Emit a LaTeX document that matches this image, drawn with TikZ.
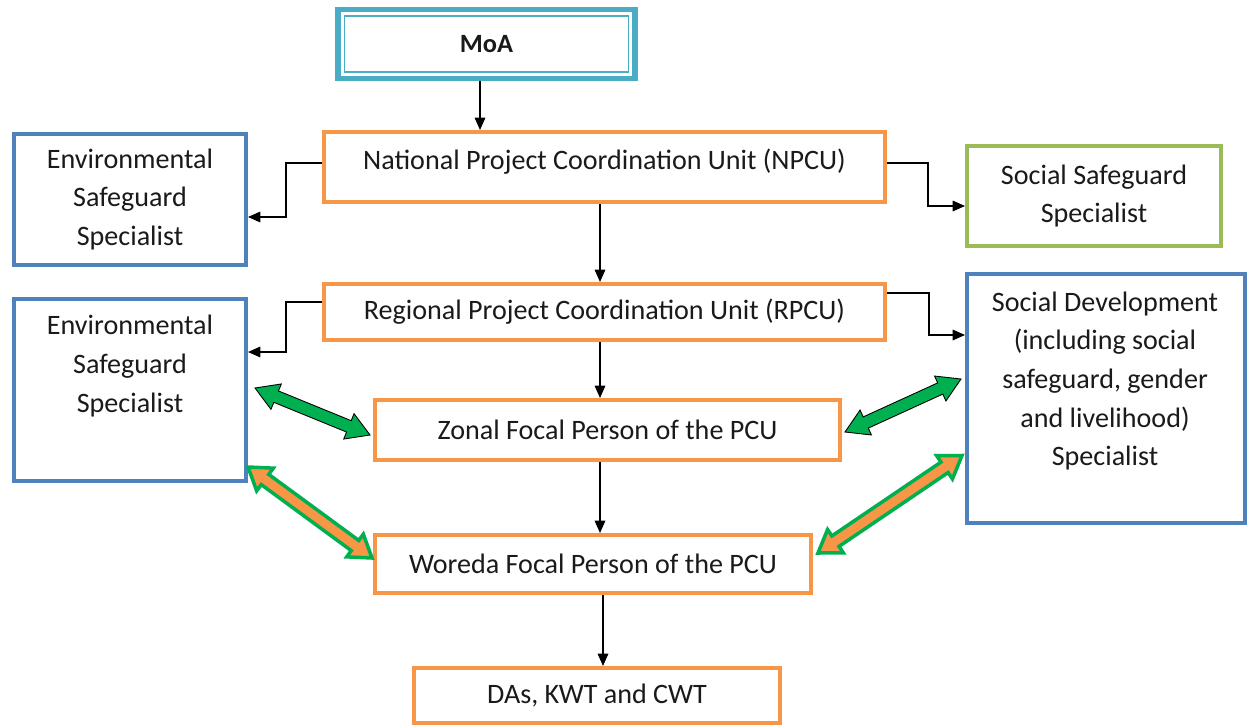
\documentclass[tikz,border=0pt]{standalone}
\usepackage{fontspec}
\setmainfont{Carlito}
\usetikzlibrary{calc,arrows.meta}
\definecolor{orng}{HTML}{F79646}
\definecolor{blu}{HTML}{4F81BD}
\definecolor{grnbox}{HTML}{9BBB59}
\definecolor{teal}{HTML}{4BACC6}
\definecolor{garr}{HTML}{00B050}
\definecolor{txtc}{HTML}{1A1A1A}
\newcommand\dblarrow[6]{%
  \coordinate (da-a1) at ($(#1)!#5!(#2)$);
  \coordinate (da-b1) at ($(#2)!#5!(#1)$);
  \path[#6] (#1) -- ($(da-a1)!#4!90:(#2)$) -- ($(da-a1)!#3!90:(#2)$)
    -- ($(da-b1)!#3!-90:(#1)$) -- ($(da-b1)!#4!-90:(#1)$) -- (#2)
    -- ($(da-b1)!#4!90:(#1)$) -- ($(da-b1)!#3!90:(#1)$)
    -- ($(da-a1)!#3!-90:(#2)$) -- ($(da-a1)!#4!-90:(#2)$) -- cycle;
}
\begin{document}
\begin{tikzpicture}[x=0.02cm,y=-0.02cm,
  txt/.style={font=\fontsize{16}{22}\selectfont, align=center, text=txtc},
  obox/.style={txt, draw=orng, line width=2.3pt, rectangle, inner sep=0pt},
  bbox/.style={txt, draw=blu, line width=2.3pt, rectangle, inner sep=0pt},
  gbox/.style={txt, draw=grnbox, line width=2.3pt, rectangle, inner sep=0pt},
  arr/.style={-{Triangle[width=6pt,length=7pt]}, line width=0.8pt, black},
  garrow/.style={fill=garr, draw=black, line width=0.5pt, line join=miter},
  oarrow/.style={fill=orng, draw=garr, line width=2pt, line join=miter},
]
\useasboundingbox (0,0) rectangle (1251,727);
\fill[white] (0,0) rectangle (1251,727);

% MoA
\node[draw=teal, line width=3pt, minimum width=5.94cm, minimum height=1.38cm, inner sep=0pt,
      font=\fontsize{15}{18}\selectfont\bfseries, text=txtc] (moa) at (486.5,44) {MoA};
\draw[teal, line width=0.9pt] ($(moa.north west)+(9,9)$) rectangle ($(moa.south east)+(-9,-9)$);

% orange boxes
\node[obox, minimum width=11.22cm, minimum height=1.40cm] (npcu) at (604.5,167)
  {National Project Coordination Unit (NPCU)\rule[-9pt]{0pt}{0pt}};
\node[obox, minimum width=11.22cm, minimum height=1.12cm] (rpcu) at (604.5,312)
  {Regional Project Coordination Unit (RPCU)};
\node[obox, minimum width=9.30cm, minimum height=1.20cm] (zonal) at (607.5,430)
  {Zonal Focal Person of the PCU};
\node[obox, minimum width=8.72cm, minimum height=1.16cm] (woreda) at (593,564)
  {Woreda Focal Person of the PCU};
\node[obox, minimum width=7.32cm, minimum height=1.10cm] (das) at (597,695.5)
  {DAs, KWT and CWT};

% side boxes
\node[bbox, minimum width=4.64cm, minimum height=2.62cm] (env1) at (130,199.5)
  {Environmental\\Safeguard\\Specialist};
\node[bbox, minimum width=4.64cm, minimum height=3.64cm] (env2) at (130,390) {};
\node[txt] (env2t) at (130,366) {Environmental\\Safeguard\\Specialist};
\node[gbox, minimum width=5.08cm, minimum height=2.00cm] (sss) at (1094,196)
  {Social Safeguard\\Specialist};
\node[bbox, minimum width=5.56cm, minimum height=4.98cm] (socdev) at (1106,398.5) {};
\node[txt] (socdevt) at (1105,381)
  {Social Development\\(including social\\safeguard, gender\\and livelihood)\\Specialist};

% vertical arrows
\coordinate (vx) at (600,0);
\coordinate (vx2) at (603,0);
\draw[arr] (moa.south -| 480,0) -- (npcu.north -| 480,0);
\draw[arr] (npcu.south -| vx) -- (rpcu.north -| vx);
\draw[arr] (rpcu.south -| vx) -- (zonal.north -| vx);
\draw[arr] (zonal.south -| vx) -- (woreda.north -| vx);
\draw[arr] (woreda.south -| vx2) -- (das.north -| vx2);

% elbow connectors
\draw[arr] ($(npcu.west)+(0,-4)$) -- ++(-36,0) |- ($(env1.east)+(0,17.5)$);
\draw[arr] ($(rpcu.west)+(0,-10)$) -- ++(-36,0) |- ($(env2.east)+(0,-38)$);
\draw[arr] ($(npcu.east)+(0,-4)$) -- ++(41,0) |- ($(sss.west)+(0,10)$);
\draw[arr] ($(rpcu.east)+(0,-19)$) -- ++(42,0) |- ($(socdev.west)+(0,-63.5)$);

% double arrows
\coordinate (g1s) at ($(env2.east)+(7,-2)$);
\coordinate (g1e) at ($(zonal.west)+(-3,5)$);
\dblarrow{g1s}{g1e}{3.5pt}{7.8pt}{13pt}{garrow}
\coordinate (g2s) at ($(zonal.east)+(3,2)$);
\coordinate (g2e) at ($(socdev.west)+(-4,-19.5)$);
\dblarrow{g2s}{g2e}{3.5pt}{7.8pt}{13pt}{garrow}
\coordinate (o1s) at ($(env2.south east)+(0,-16)$);
\coordinate (o1e) at ($(woreda.west)+(-1,-6)$);
\dblarrow{o1s}{o1e}{3.6pt}{8pt}{12pt}{oarrow}
\coordinate (o2s) at ($(woreda.east)+(5,-11)$);
\coordinate (o2e) at ($(socdev.west)+(-3,57)$);
\dblarrow{o2s}{o2e}{3.6pt}{8pt}{12pt}{oarrow}
\end{tikzpicture}
\end{document}
